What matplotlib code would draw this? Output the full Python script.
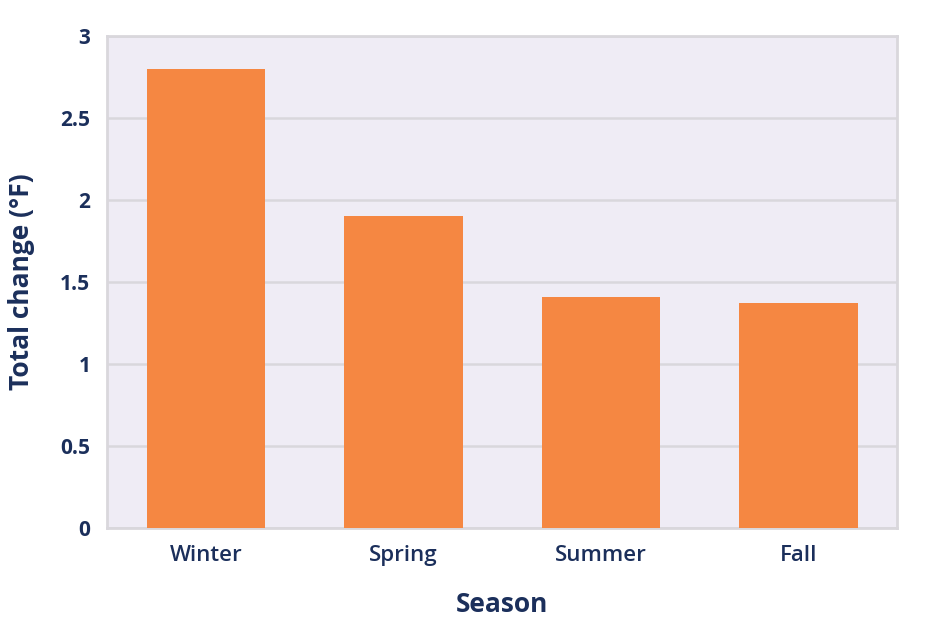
import matplotlib.pyplot as plt
import numpy as np

seasons = ['Winter', 'Spring', 'Summer', 'Fall']
total_change = [2.80, 1.90, 1.41, 1.37]
y_ticks = [0, 0.5, 1, 1.5, 2, 2.5, 3]
y_tick_labels = ['0', '0.5', '1', '1.5', '2', '2.5', '3']

navy = '#1b2f5b'
orange = '#f58742'
plt.rcParams['font.family'] = ['Open Sans', 'DejaVu Sans']

fig = plt.figure(figsize=(9.28, 6.34), dpi=100)
ax = fig.add_axes([107/928, 106/634, 790/928, 492/634])
ax.set_facecolor('#efecf5')

x = np.arange(len(seasons))
ax.bar(x, total_change, width=0.6, color=orange, zorder=3)

ax.set_xlim(-0.5, 3.5)
ax.set_ylim(0, 3)
ax.set_yticks(y_ticks)
ax.set_yticklabels(y_tick_labels, fontsize=15, fontweight='bold', color=navy)
ax.set_xticks(x)
ax.set_xticklabels(seasons, fontsize=16, fontweight='semibold', color=navy)
ax.tick_params(axis='both', length=0)
ax.tick_params(axis='y', pad=12)
ax.tick_params(axis='x', pad=12)
ax.grid(axis='y', color='#d9d7dc', linewidth=1.8, zorder=1)
for s in ax.spines.values():
    s.set_color('#d9d7dc')
    s.set_linewidth(2)

ax.set_xlabel('Season', fontsize=19, fontweight='bold', color=navy, labelpad=18)
ax.set_ylabel('Total change (°F)', fontsize=19, fontweight='bold', color=navy, labelpad=18)

fig.savefig('out.png', dpi=100)
